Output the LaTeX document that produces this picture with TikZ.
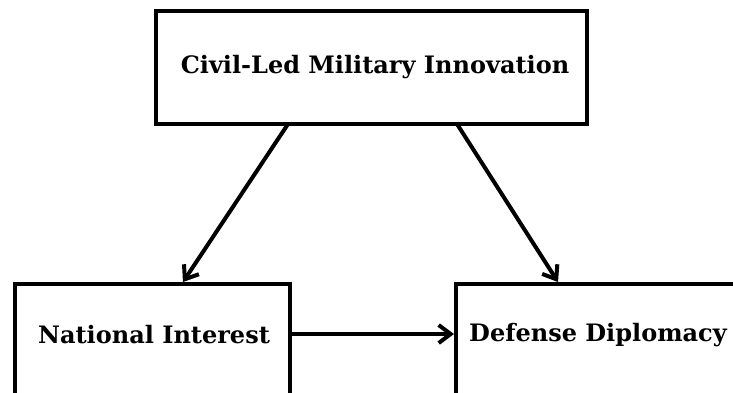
\documentclass[tikz,border=0pt]{standalone}
\usepackage{fontspec}
\setmainfont{DejaVu Serif}
\usetikzlibrary{arrows.meta}
\tikzset{
  box/.style={draw=black, line width=4.5pt, fill=white},
  conn/.style={line width=4pt, -{Straight Barb[length=12pt,width=18pt,line width=4pt]}},
  lbl/.style={font=\bfseries\fontsize{24}{28}\selectfont, inner sep=0pt},
}
\begin{document}
\begin{tikzpicture}[x=1pt,y=-1pt]
\useasboundingbox (0,0) rectangle (733,392);
\draw[box] (156,11) rectangle (587,124);
\draw[box] (15,400) -- (15,284) -- (290,284) -- (290,400);
\draw[box] (456,400) -- (456,284) -- (745,284);
\node[lbl] (top) at (375,67) {Civil-Led Military Innovation};
\node[lbl] (ni) at (154,335) {National Interest};
\node[lbl] (dd) at (598,335) {Defense Diplomacy};
\coordinate (t1) at (288,124);
\coordinate (t2) at (457,124);
\coordinate (b1) at (183,282);
\coordinate (b2) at (558,282);
\coordinate (h1) at (292,334);
\coordinate (h2) at (454,334);
\draw[conn] (t1) -- (b1);
\draw[conn] (t2) -- (b2);
\draw[conn] (h1) -- (h2);
\end{tikzpicture}
\end{document}
